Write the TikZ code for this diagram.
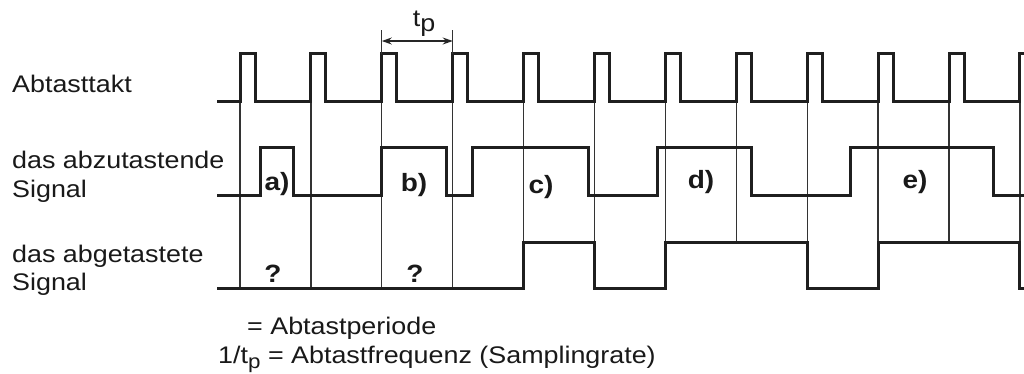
\documentclass[tikz,border=0pt]{standalone}
\usepackage{fontspec}
\setmainfont{Liberation Sans}[FakeStretch=1.12]
\usetikzlibrary{arrows.meta}
\begin{document}
\begin{tikzpicture}[x=1pt,y=-1pt,
  sig/.style={line width=3pt,line join=miter,color=black!88},
  gridline/.style={line width=1.3pt,color=black!80},
  lbl/.style={anchor=base west,inner sep=0pt,font=\fontsize{24}{28}\selectfont,text=black!90},
  tag/.style={anchor=base,inner sep=0pt,font=\fontsize{25}{28}\selectfont\bfseries,text=black!90},
  dim/.style={line width=1.3pt,color=black!85,{Stealth[length=10pt,width=7pt]}-{Stealth[length=10pt,width=7pt]}}]
\useasboundingbox[fill=white] (0,0) rectangle (1024,373);
\def\T{70.9}
% thin sampling lines
\foreach \k in {0,...,3}
  \draw[gridline] ({240+\k*\T},101.5) -- ({240+\k*\T},288);
\foreach \k in {4,...,11}
  \draw[gridline] ({240+\k*\T},101.5) -- ({240+\k*\T},242);
% clock
\draw[sig] (217,101.5) foreach \k in {0,...,11} {
  -- ({240+\k*\T},101.5) -- ({240+\k*\T},53.5) -- ({255+\k*\T},53.5) -- ({255+\k*\T},101.5) } -- (1040,101.5);
% signal to be sampled
\draw[sig] (217,195.5) -- (260,195.5) -- (260,147.5) -- (293,147.5) -- (293,195.5)
  -- (381.8,195.5) -- (381.8,147.5) -- (446,147.5) -- (446,195.5)
  -- (472,195.5) -- (472,147.5) -- (588,147.5) -- (588,195.5)
  -- (657,195.5) -- (657,147.5) -- (751,147.5) -- (751,195.5)
  -- (850,195.5) -- (850,147.5) -- (993,147.5) -- (993,195.5) -- (1040,195.5);
% sampled signal
\draw[sig] (217,288) -- (523.6,288) -- (523.6,242) -- (594.5,242) -- (594.5,288)
  -- (665.4,288) -- (665.4,242) -- (807.2,242) -- (807.2,288)
  -- (878.1,288) -- (878.1,242) -- (1019.9,242) -- (1019.9,288) -- (1040,288);
% tp dimension
\coordinate (tpA) at (381.8,41);
\coordinate (tpB) at (452.7,41);
\draw[gridline] (381.8,30) -- (381.8,53.5);
\draw[gridline] (452.7,30) -- (452.7,53.5);
\draw[dim] (tpA) -- (tpB);
\node[anchor=base,inner sep=0pt,font=\fontsize{24}{28}\selectfont,text=black!90] (tp) at (424,26) {t\raisebox{-5pt}{p}};
% left labels
\node[lbl] (l1) at (12,92) {Abtasttakt};
\node[lbl] (l2a) at (12,168) {das abzutastende};
\node[lbl] (l2b) at (12,197) {Signal};
\node[lbl] (l3a) at (12,262) {das abgetastete};
\node[lbl] (l3b) at (12,290) {Signal};
% case tags
\node[tag] (ta) at (277,190) {a)};
\node[tag] (tb) at (414,191) {b)};
\node[tag] (tc) at (541,193) {c)};
\node[tag] (td) at (701,188) {d)};
\node[tag] (te) at (915,188) {e)};
\node[tag] (q1) at (273,282) {?};
\node[tag] (q2) at (415,282) {?};
% bottom notes
\node[lbl] (n1) at (247,334) {= Abtastperiode};
\node[lbl] (n2) at (218,363) {1/t\raisebox{-5pt}{\fontsize{20}{20}\selectfont p} = Abtastfrequenz (Samplingrate)};
\end{tikzpicture}
\end{document}
